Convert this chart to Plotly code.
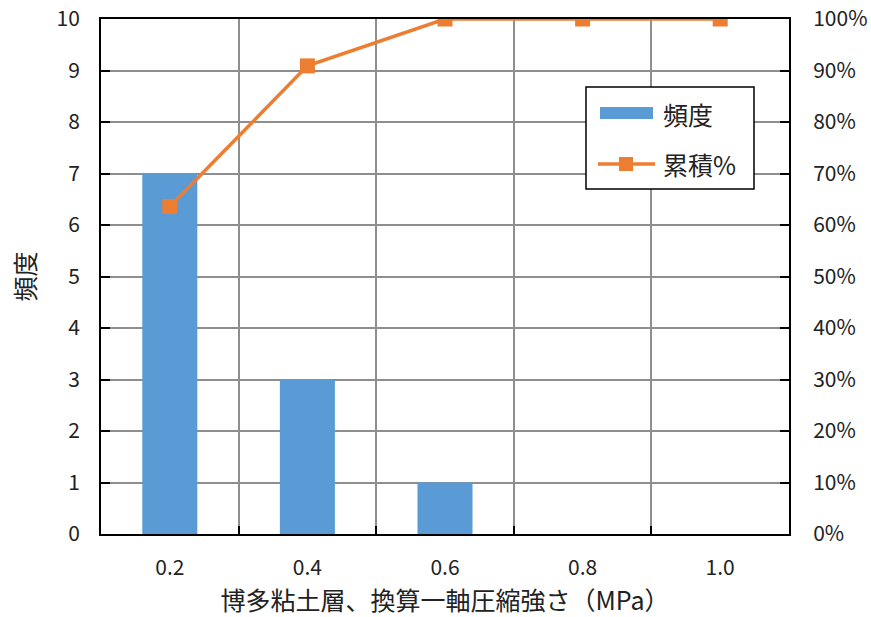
import plotly.graph_objects as go

# Strength classes (MPa), frequency counts and cumulative share
classes = ["0.2", "0.4", "0.6", "0.8", "1.0"]
frequency = [7, 3, 1, 0, 0]
cumulative = [0.636, 0.909, 1.0, 1.0, 1.0]

left_ticks = list(range(0, 11))
right_ticks = [i / 10 for i in range(0, 11)]

series_names = ["頻度", "累積%"]

BLUE = "#5B9BD5"
ORANGE = "#ED7D31"
GRID = "#8E8E8E"
TEXT = "#222222"
FONT = "Noto Sans CJK JP"

W, H = 871, 617
ML, MR, MT, MB = 101, 82, 19, 83
PW, PH = W - ML - MR, H - MT - MB


def px(x):
    """Horizontal pixel -> paper fraction."""
    return (x - ML) / PW


def py(y):
    """Vertical pixel (from top) -> paper fraction."""
    return (H - MB - y) / PH


fig = go.Figure()
fig.add_trace(go.Bar(
    x=classes, y=frequency, name=series_names[0],
    marker=dict(color=BLUE, line=dict(width=0)),
))
fig.add_trace(go.Scatter(
    x=classes, y=cumulative, name=series_names[1], yaxis="y2",
    mode="lines+markers",
    line=dict(color=ORANGE, width=3.5),
    marker=dict(symbol="square", size=15, color=ORANGE),
))

# Legend box drawn in paper space
shapes = [
    dict(type="rect", xref="paper", yref="paper",
         x0=px(586), x1=px(754), y0=py(189), y1=py(87),
         line=dict(color="black", width=1.5), fillcolor="white", layer="above"),
    dict(type="rect", xref="paper", yref="paper",
         x0=px(600), x1=px(653), y0=py(119), y1=py(107),
         line=dict(width=0), fillcolor=BLUE, layer="above"),
    dict(type="line", xref="paper", yref="paper",
         x0=px(598), x1=px(655), y0=py(164), y1=py(164),
         line=dict(color=ORANGE, width=3.5), layer="above"),
    dict(type="rect", xref="paper", yref="paper",
         x0=px(619), x1=px(633), y0=py(171), y1=py(157),
         line=dict(width=0), fillcolor=ORANGE, layer="above"),
]
annotations = [
    dict(xref="paper", yref="paper", x=px(661), y=py(114),
         xanchor="left", yanchor="middle", showarrow=False,
         text=series_names[0], font=dict(size=25, color=TEXT)),
    dict(xref="paper", yref="paper", x=px(661), y=py(164),
         xanchor="left", yanchor="middle", showarrow=False,
         text=series_names[1], font=dict(size=25, color=TEXT)),
]

fig.update_layout(
    width=W, height=H,
    margin=dict(l=ML, r=MR, t=MT, b=MB),
    plot_bgcolor="white", paper_bgcolor="white",
    font=dict(family=FONT, size=21, color=TEXT),
    bargap=0.6,
    showlegend=False,
    shapes=shapes,
    annotations=annotations,
    xaxis=dict(
        type="category", tickson="boundaries", automargin=False,
        showline=True, linecolor="black", linewidth=2, mirror=True,
        ticks="inside", ticklen=8, tickwidth=2, tickcolor="black",
        showgrid=True, gridcolor=GRID, gridwidth=2,
        tickfont=dict(size=21),
        ticklabelstandoff=14,
        title=dict(text="博多粘土層、換算一軸圧縮強さ（MPa）", standoff=19,
                   font=dict(size=25)),
    ),
    yaxis=dict(
        range=[0, 10], tickvals=left_ticks, automargin=False,
        showline=True, linecolor="black", linewidth=2,
        ticks="inside", ticklen=9, tickwidth=2, tickcolor="black",
        showgrid=True, gridcolor=GRID, gridwidth=2,
        zeroline=False,
        tickfont=dict(size=21),
        ticklabelstandoff=15,
        title=dict(text="頻度", standoff=14, font=dict(size=25)),
    ),
    yaxis2=dict(
        overlaying="y", side="right", range=[0, 1], automargin=False,
        tickvals=right_ticks, tickformat=".0%",
        showline=True, linecolor="black", linewidth=2,
        ticks="inside", ticklen=9, tickwidth=2, tickcolor="black",
        showgrid=False, zeroline=False,
        tickfont=dict(size=21),
        ticklabelstandoff=18,
    ),
)

fig.write_html("out.html")
